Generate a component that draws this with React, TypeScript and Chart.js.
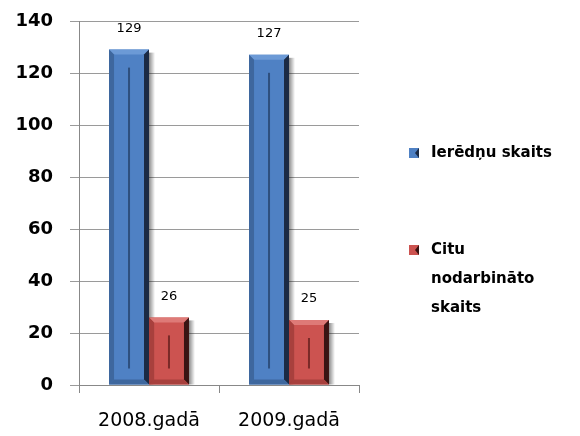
import React, { useEffect, useRef } from "react";
import { Chart, registerables } from "chart.js";

Chart.register(...registerables);

const categories = ["2008.gadā", "2009.gadā"];
const officials = [129, 127];
const others = [26, 25];
const seriesLabels: string[][] = [["Ierēdņu skaits"], ["Citu", "nodarbināto", "skaits"]];
const yMin = 0;
const yMax = 140;
const yStep = 20;

const palettes = [
  { base: "#4F81C4", light: "#6C9AD6", dark: "#1B2A44", side: "#3E679E", line: "#2E4F7E" },
  { base: "#CC5350", light: "#DE7A77", dark: "#3A1413", side: "#A8403D", line: "#7A2A28" },
];

const bevelPlugin = {
  id: "bevel",
  afterDatasetsDraw(chart: any) {
    const ctx = chart.ctx as CanvasRenderingContext2D;
    chart.data.datasets.forEach((_ds: any, i: number) => {
      const meta = chart.getDatasetMeta(i);
      const pal = palettes[i];
      meta.data.forEach((el: any) => {
        const { x, y, base, width } = el.getProps(["x", "y", "base", "width"], true);
        const l = x - width / 2;
        const r = x + width / 2;
        const b = 5;
        ctx.save();
        const g = ctx.createLinearGradient(r, 0, r + 6, 0);
        g.addColorStop(0, "rgba(0,0,0,0.45)");
        g.addColorStop(1, "rgba(0,0,0,0)");
        ctx.fillStyle = g;
        ctx.fillRect(r, y + 3, 6, base - y - 3);
        ctx.fillStyle = pal.light;
        ctx.beginPath();
        ctx.moveTo(l, y); ctx.lineTo(r, y); ctx.lineTo(r - b, y + b); ctx.lineTo(l + b, y + b);
        ctx.closePath(); ctx.fill();
        ctx.fillStyle = pal.side;
        ctx.beginPath();
        ctx.moveTo(l, y); ctx.lineTo(l + b, y + b); ctx.lineTo(l + b, base - b); ctx.lineTo(l, base);
        ctx.closePath(); ctx.fill();
        ctx.fillStyle = pal.dark;
        ctx.beginPath();
        ctx.moveTo(r, y); ctx.lineTo(r, base); ctx.lineTo(r - b, base - b); ctx.lineTo(r - b, y + b);
        ctx.closePath(); ctx.fill();
        ctx.fillStyle = pal.side;
        ctx.beginPath();
        ctx.moveTo(l, base); ctx.lineTo(r, base); ctx.lineTo(r - b, base - b); ctx.lineTo(l + b, base - b);
        ctx.closePath(); ctx.fill();
        ctx.fillStyle = pal.line;
        ctx.fillRect(x - 1, y + 18, 2, Math.max(0, base - y - 34));
        ctx.restore();
      });
    });
  },
};

const labelPlugin = {
  id: "valueLabels",
  afterDraw(chart: any) {
    const ctx = chart.ctx as CanvasRenderingContext2D;
    ctx.save();
    ctx.font = "13px 'DejaVu Sans'";
    ctx.fillStyle = "#000";
    ctx.textAlign = "center";
    ctx.textBaseline = "middle";
    chart.data.datasets.forEach((ds: any, i: number) => {
      const meta = chart.getDatasetMeta(i);
      meta.data.forEach((el: any, j: number) => {
        const { x, y } = el.getProps(["x", "y"], true);
        ctx.fillText(String(ds.data[j]), x, y - 21);
      });
    });
    ctx.restore();
  },
};

const legendPlugin = {
  id: "sideLegend",
  afterDraw(chart: any) {
    const ctx = chart.ctx as CanvasRenderingContext2D;
    const area = chart.chartArea;
    ctx.save();
    ctx.font = "bold 15px 'DejaVu Sans'";
    ctx.textBaseline = "middle";
    ctx.textAlign = "left";
    const boxX = area.right + 50;
    const starts = [area.top + 132, area.top + 229];
    const lineH = 29;
    seriesLabels.forEach((lines, i) => {
      const pal = palettes[i];
      const y0 = starts[i];
      ctx.fillStyle = pal.base;
      ctx.fillRect(boxX, y0 - 5, 10, 10);
      ctx.fillStyle = pal.dark;
      ctx.beginPath();
      ctx.moveTo(boxX + 10, y0 - 5); ctx.lineTo(boxX + 10, y0 + 5); ctx.lineTo(boxX + 6, y0);
      ctx.closePath(); ctx.fill();
      ctx.fillStyle = "#000";
      lines.forEach((t, k) => ctx.fillText(t, boxX + 22, y0 + k * lineH));
    });
    ctx.restore();
  },
};

export default function App() {
  const ref = useRef<HTMLCanvasElement | null>(null);
  useEffect(() => {
    if (!ref.current) return;
    const chart = new Chart(ref.current, {
      type: "bar",
      data: {
        labels: categories,
        datasets: [
          { label: seriesLabels[0].join(" "), data: officials, backgroundColor: palettes[0].base, borderWidth: 0 },
          { label: seriesLabels[1].join(" "), data: others, backgroundColor: palettes[1].base, borderWidth: 0 },
        ],
      },
      options: {
        responsive: false,
        animation: false,
        layout: { padding: { top: 21, right: 221, left: 0, bottom: 0 } },
        datasets: { bar: { categoryPercentage: 0.571, barPercentage: 1 } },
        plugins: { legend: { display: false }, tooltip: { enabled: false } },
        scales: {
          x: {
            offset: true,
            grid: { offset: true, drawOnChartArea: false, drawTicks: true, tickLength: 8, color: "#888" },
            border: { color: "#888" },
            ticks: { color: "#000", padding: 17, font: { family: "'DejaVu Sans'", size: 19 } },
            afterFit(scale: any) { scale.height = 51; scale.paddingLeft = 0; scale.paddingRight = 0; },
          },
          y: {
            min: yMin,
            max: yMax,
            ticks: { stepSize: yStep, color: "#000", padding: 17, font: { family: "'DejaVu Sans'", size: 18, weight: "bold" } },
            grid: { color: "#9a9a9a", tickLength: 9 },
            border: { color: "#888" },
            afterFit(scale: any) { scale.width = 79; scale.paddingTop = 0; scale.paddingBottom = 0; },
          },
        },
      },
      plugins: [bevelPlugin, labelPlugin, legendPlugin],
    });
    return () => chart.destroy();
  }, []);
  return (
    <div style={{ position: "fixed", left: 0, top: 0, width: 580, height: 436, background: "#fff" }}>
      <canvas ref={ref} width={580} height={436} />
    </div>
  );
}
